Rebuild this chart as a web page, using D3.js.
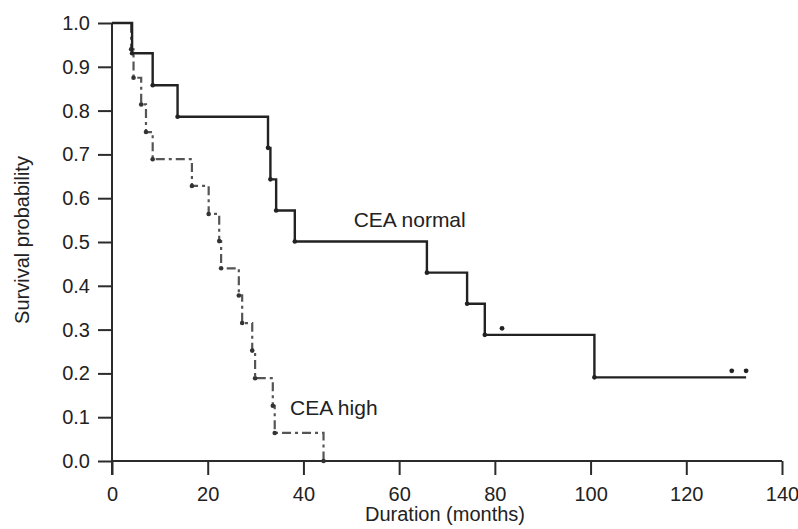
<!DOCTYPE html>
<html>
<head>
<meta charset="utf-8">
<script src="https://cdn.jsdelivr.net/npm/d3@7"></script>
<style>
  html, body { margin: 0; padding: 0; background: #fff; }
  svg text { font-family: "Liberation Sans", Arial, sans-serif; fill: #222; }
</style>
</head>
<body>
<svg id="chart" width="798" height="529"></svg>
<script>
// ---- data ----
const xTicks = [0, 20, 40, 60, 80, 100, 120, 140];
const yTicks = [0.0, 0.1, 0.2, 0.3, 0.4, 0.5, 0.6, 0.7, 0.8, 0.9, 1.0];

const normalTimes = [0, 4.2, 8.5, 13.7, 32.6, 33.1, 34.3, 38.2, 65.8, 74.2, 77.9, 100.8];
const normalSurv  = [1.0, 0.931, 0.858, 0.786, 0.715, 0.643, 0.572, 0.501, 0.430, 0.359, 0.288, 0.191];
const normalEnd = 132.5;
const normalCensorTimes = [81.5, 129.5, 132.5];
const normalCensorSurv  = [0.288, 0.191, 0.191];

const highTimes = [0, 4.0, 4.5, 6.1, 7.1, 8.5, 16.7, 20.2, 22.4, 22.8, 26.5, 27.2, 29.3, 29.9, 33.6, 34.0, 44.2];
const highSurv  = [1.0, 0.94, 0.875, 0.814, 0.751, 0.689, 0.628, 0.564, 0.502, 0.44, 0.378, 0.315, 0.252, 0.189, 0.126, 0.064, 0.0];

const labels = [
  {text: "CEA normal", t: 50.5, s: 0.535},
  {text: "CEA high", t: 37.2, s: 0.105}
];

// ---- drawing ----
const svg = d3.select("#chart");
const x = d3.scaleLinear().domain([0, 140]).range([112, 782]);
const y = d3.scaleLinear().domain([0, 1]).range([461, 23]);

const axisColor = "#2b2b2b";

// x axis
const gx = svg.append("g").attr("transform", `translate(0,${y(0)})`)
  .call(d3.axisBottom(x).tickValues(xTicks).tickSize(14).tickPadding(12).tickFormat(d3.format("d")));
gx.select(".domain").attr("stroke", axisColor).attr("stroke-width", 2).attr("d", `M${x(0)},0H${x(140)}`);
gx.selectAll(".tick line").attr("stroke", axisColor).attr("stroke-width", 2);
gx.selectAll(".tick text").attr("font-size", 20).attr("fill", "#222")
  .attr("font-family", "Liberation Sans, Arial, sans-serif");

// y axis
const gy = svg.append("g").attr("transform", `translate(${x(0)},0)`)
  .call(d3.axisLeft(y).tickValues(yTicks).tickSize(14).tickPadding(8).tickFormat(d3.format(".1f")));
gy.select(".domain").attr("stroke", axisColor).attr("stroke-width", 2).attr("d", `M0,${y(1)}V${y(0) + 14}`);
gy.selectAll(".tick line").attr("stroke", axisColor).attr("stroke-width", 2);
gy.selectAll(".tick text").attr("font-size", 20).attr("fill", "#222")
  .attr("font-family", "Liberation Sans, Arial, sans-serif");

// axis titles
svg.append("text").attr("x", 445).attr("y", 521).attr("text-anchor", "middle")
  .attr("font-size", 20).text("Duration (months)");
svg.append("text").attr("transform", `translate(29,${240}) rotate(-90)`).attr("text-anchor", "middle")
  .attr("font-size", 20).text("Survival probability");

const line = d3.line().x(d => x(d[0])).y(d => y(d[1])).curve(d3.curveStepAfter);

// CEA high (dash-dot)
const highPts = highTimes.map((t, i) => [t, highSurv[i]]);
svg.append("path").datum(highPts).attr("d", line)
  .attr("fill", "none").attr("stroke", "#555").attr("stroke-width", 2.2)
  .attr("stroke-dasharray", "9,4,3,4");
svg.append("g").selectAll("circle").data(highPts.slice(1)).join("circle")
  .attr("cx", d => x(d[0])).attr("cy", d => y(d[1])).attr("r", 2.3).attr("fill", "#333");

// CEA normal (solid)
const normalPts = normalTimes.map((t, i) => [t, normalSurv[i]]);
normalPts.push([normalEnd, normalSurv[normalSurv.length - 1]]);
svg.append("path").datum(normalPts).attr("d", line)
  .attr("fill", "none").attr("stroke", "#222").attr("stroke-width", 2.4);
svg.append("g").selectAll("circle").data(normalPts.slice(1, normalTimes.length)).join("circle")
  .attr("cx", d => x(d[0])).attr("cy", d => y(d[1])).attr("r", 2.3).attr("fill", "#222");

// censor marks (dots just above the line)
svg.append("g").selectAll("circle").data(normalCensorTimes.map((t, i) => [t, normalCensorSurv[i]])).join("circle")
  .attr("cx", d => x(d[0])).attr("cy", d => y(d[1]) - 6.5).attr("r", 2.4).attr("fill", "#222");

// curve labels
svg.append("g").selectAll("text").data(labels).join("text")
  .attr("x", d => x(d.t)).attr("y", d => y(d.s))
  .attr("font-size", 21).text(d => d.text);
</script>
</body>
</html>
